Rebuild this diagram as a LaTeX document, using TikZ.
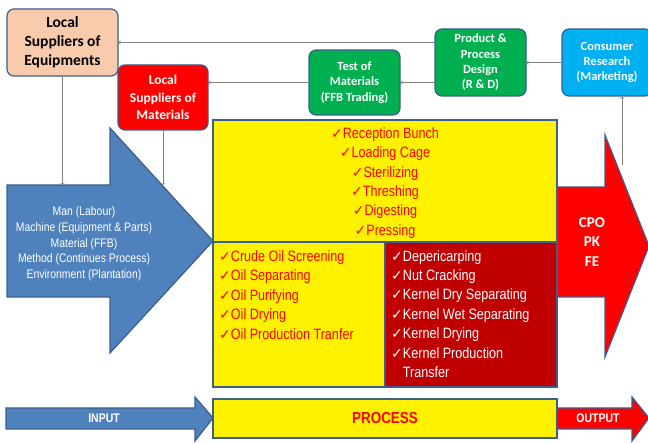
\documentclass[tikz,border=0pt]{standalone}
\usepackage{fontspec}
\setmainfont{Carlito}
\newfontfamily\narrowsans[FakeStretch=0.84]{Liberation Sans}
\newfontfamily\dejavu{DejaVu Sans}
\newcommand{\chk}{{\dejavu\bfseries\fontsize{14}{14}\selectfont ✓}}
\definecolor{edge}{HTML}{3B5E8C}
\definecolor{peach}{HTML}{F8CBAD}
\definecolor{grn}{HTML}{00B050}
\definecolor{cyanbox}{HTML}{00B0F0}
\definecolor{bluearrow}{HTML}{4F81BD}
\definecolor{darkred}{HTML}{C00000}
\definecolor{linkgray}{HTML}{808080}

\begin{document}
\begin{tikzpicture}[x=1pt,y=-1pt,
  box/.style={draw=edge, line width=1.2pt, rounded corners=7pt, align=center, inner sep=0pt},
  blk/.style={draw=edge, line width=1.2pt},
  link/.style={->, draw=linkgray, line width=0.6pt},
  list/.style={font=\narrowsans\fontsize{15}{19.4}\selectfont, inner sep=0pt},
  small/.style={font=\fontsize{12.5}{15.3}\selectfont\bfseries, text=white}]
\useasboundingbox (0,0) rectangle (648,443);

% big arrows
\draw[blk, fill=bluearrow] (7,185) -- (110,185) -- (110,128) -- (213,241) -- (110,353) -- (110,297) -- (7,297) -- cycle;
\draw[blk, fill=red] (557,187) -- (605,187) -- (605,135) -- (649,246) -- (605,357) -- (605,297) -- (557,297) -- cycle;
\coordinate (intop) at (62,185);
\coordinate (outtop) at (622,165);

% process boxes
\draw[blk, fill=yellow] (213,120) rectangle (557,242);
\draw[blk, fill=yellow] (213,242) rectangle (385,387);
\draw[blk, fill=darkred] (385,242) rectangle (557,387);

% bottom row
\draw[blk, fill=bluearrow] (6,408) -- (195,408) -- (195,397) -- (213,418) -- (195,441) -- (195,429) -- (6,429) -- cycle;
\draw[blk, fill=yellow] (213,399) rectangle (557,438);
\draw[blk, fill=red] (557,408) -- (632,408) -- (632,397) -- (649,418) -- (632,441) -- (632,429) -- (557,429) -- cycle;

% boxes on top
\node[box, fill=peach, minimum width=111pt, minimum height=67pt, font=\fontsize{15.5}{19}\selectfont\bfseries] (equip) at (62.5,42.5) {Local\\Suppliers of\\Equipments};
\node[box, fill=red, text=white, minimum width=90pt, minimum height=65pt, font=\fontsize{13.5}{17.5}\selectfont\bfseries] (mat) at (163,97.5) {Local\\Suppliers of\\Materials};
\node[box, fill=grn, small, minimum width=91pt, minimum height=65pt] (test) at (354.5,82.5) {Test of\\Materials\\(FFB Trading)};
\node[box, fill=grn, small, minimum width=91pt, minimum height=67pt] (ppd) at (480.5,62.5) {Product \&\\Process\\Design\\(R \& D)};
\node[box, fill=cyanbox, small, minimum width=90pt, minimum height=67pt] (cons) at (607,62.5) {Consumer\\Research\\(Marketing)};

% texts
\node[font=\narrowsans\fontsize{12.4}{15.7}\selectfont, text=white, align=center] (inputs) at (84,244) {Man (Labour)\\Machine (Equipment \& Parts)\\Material (FFB)\\Method (Continues Process)\\Environment (Plantation)};
\node[list, text=red, align=center] (prep) at (385,183) {\chk Reception Bunch\\\chk Loading Cage\\\chk Sterilizing\\\chk Threshing\\\chk Digesting\\\chk Pressing};
\node[list, text=red, align=left, anchor=west] (oil) at (219,295) {\chk Crude Oil Screening\\\chk Oil Separating\\\chk Oil Purifying\\\chk Oil Drying\\\chk Oil Production Tranfer};
\node[list, text=white, align=left, anchor=west] (kern) at (391,314) {\chk Depericarping\\\chk Nut Cracking\\\chk Kernel Dry Separating\\\chk Kernel Wet Separating\\\chk Kernel Drying\\\chk Kernel Production\\\phantom{\chk}Transfer};
\node[font=\fontsize{15}{19.5}\selectfont\bfseries, text=white, align=center] (prod) at (592,242) {CPO\\PK\\FE};
\node[font=\narrowsans\fontsize{12.5}{12.5}\selectfont\bfseries, text=white] (input) at (104,418) {INPUT};
\node[font=\narrowsans\fontsize{16}{16}\selectfont\bfseries, text=red] (process) at (385,418) {PROCESS};
\node[font=\narrowsans\fontsize{12.5}{12.5}\selectfont\bfseries, text=white] (output) at (598,418) {OUTPUT};

% connectors
\draw[link] (cons) -- (ppd);
\draw[link] (ppd.west |- test.east) -- (test.east);
\draw[link] (ppd.west |- equip.east) -- (equip.east);
\draw[link] (test.west) -- (test.west -| mat.east);
\draw[link] (equip) -- (equip |- intop);
\draw[link] (mat) -- (mat |- intop);
\draw[link] (outtop) -- (outtop |- cons.south);
\end{tikzpicture}
\end{document}
